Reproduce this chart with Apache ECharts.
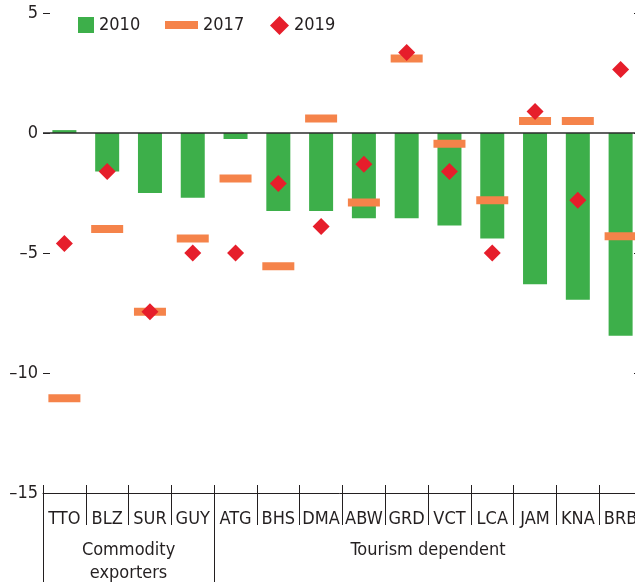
<!DOCTYPE html>
<html>
<head>
<meta charset="utf-8">
<script src="https://cdn.jsdelivr.net/npm/echarts@6/dist/echarts.min.js"></script>
<style>
  html, body { margin: 0; padding: 0; background: #fff; }
  #chart { width: 635px; height: 582px; }
</style>
</head>
<body>
<div id="chart"></div>
<script>
var categories = ['TTO', 'BLZ', 'SUR', 'GUY', 'ATG', 'BHS', 'DMA', 'ABW', 'GRD', 'VCT', 'LCA', 'JAM', 'KNA', 'BRB']
var values2010 = [0.12, -1.6, -2.5, -2.7, -0.25, -3.25, -3.25, -3.55, -3.55, -3.85, -4.4, -6.3, -6.95, -8.45]
var values2017 = [-11.05, -4.0, -7.45, -4.4, -1.9, -5.55, 0.6, -2.9, 3.1, -0.45, -2.8, 0.5, 0.5, -4.3]
var values2019 = [-4.6, -1.6, -7.45, -5.0, -5.0, -2.1, -3.9, -1.3, 3.35, -1.6, -5.0, 0.9, -2.8, 2.65]
var groupNames = ['Commodity\nexporters', 'Tourism dependent']
var groupEdges = [0, 4, 14]
var groupCenters = [2, 9]

var font = '"DejaVu Sans Condensed", "Liberation Sans Narrow", Roboto, sans-serif'
var ink = '#231f20'

var myChart = echarts.init(document.getElementById('chart'))

var option = {
  animation: false,
  textStyle: { fontFamily: font },
  grid: { left: 43, right: -7, top: 13, bottom: 89, containLabel: false, outerBoundsMode: 'none' },
  legend: [
    {
      data: [{ name: '2010', icon: 'rect' }], left: 73, top: 11, itemWidth: 16, itemHeight: 16, itemGap: 6,
      textStyle: { fontSize: 18, color: ink, fontFamily: font }
    },
    {
      data: [{ name: '2017', icon: 'rect' }], left: 160, top: 11, itemWidth: 33, itemHeight: 8,
      textStyle: { fontSize: 18, color: ink, fontFamily: font }
    },
    {
      data: [{ name: '2019', icon: 'diamond' }], left: 265, top: 11, itemWidth: 19, itemHeight: 19,
      textStyle: { fontSize: 18, color: ink, fontFamily: font }
    }
  ],
  xAxis: [
    {
      type: 'category',
      data: categories,
      position: 'bottom',
      axisLine: { show: true, onZero: false, lineStyle: { color: ink, width: 1 } },
      axisTick: { show: true, alignWithLabel: false, length: 32, lineStyle: { color: ink, width: 1 } },
      axisLabel: { color: ink, fontSize: 18, margin: 17, interval: 0, fontFamily: font },
      splitLine: { show: false }
    },
    {
      // short part of the separators above the axis line
      type: 'category',
      data: categories,
      position: 'bottom',
      axisLine: { show: false, onZero: false },
      axisTick: { show: true, inside: true, length: 8, lineStyle: { color: ink, width: 1 } },
      axisLabel: { show: false },
      splitLine: { show: false }
    },
    {
      // group separators and group names
      type: 'value',
      min: 0,
      max: 14,
      position: 'bottom',
      axisLine: { show: false, onZero: false },
      axisTick: { show: true, length: 90, customValues: groupEdges, lineStyle: { color: ink, width: 1 } },
      axisLabel: {
        show: true,
        customValues: groupCenters,
        margin: 46,
        color: ink,
        fontSize: 18,
        lineHeight: 23,
        fontFamily: font,
        formatter: function(v) {
          return groupNames[groupCenters.indexOf(v)] || ''
        }
      },
      splitLine: { show: false }
    }
  ],
  yAxis: [
    {
      type: 'value',
      min: -15,
      max: 5,
      interval: 5,
      axisLine: { show: false },
      axisTick: { show: true, inside: true, length: 7, lineStyle: { color: ink } },
      axisLabel: {
        color: ink, fontSize: 18, margin: 5, fontFamily: font,
        formatter: function(v) { return String(v).replace('-', '\u2013') }
      },
      splitLine: { show: false }
    },
    {
      type: 'value',
      position: 'right',
      min: -15,
      max: 5,
      interval: 5,
      axisLine: { show: false },
      axisTick: { show: true, inside: true, length: 8, lineStyle: { color: ink } },
      axisLabel: { show: false },
      splitLine: { show: false }
    }
  ],
  series: [
    {
      name: '2010',
      type: 'bar',
      data: values2010,
      barWidth: 24,
      itemStyle: { color: '#3daf4a' },
      z: 2,
      markLine: {
        silent: true,
        symbol: 'none',
        label: { show: false },
        lineStyle: { color: '#2b2b2b', width: 1.5, type: 'solid' },
        data: [{ yAxis: 0 }]
      }
    },
    {
      name: '2017',
      type: 'scatter',
      data: values2017,
      symbol: 'rect',
      symbolSize: [32, 8],
      itemStyle: { color: '#f5834a', opacity: 1 },
      z: 3
    },
    {
      name: '2019',
      type: 'scatter',
      data: values2019,
      symbol: 'diamond',
      symbolSize: 17,
      itemStyle: { color: '#e61e2b', opacity: 1 },
      z: 4
    }
  ]
}

myChart.setOption(option)
window.onresize = function() {
  myChart.resize()
}
</script>
</body>
</html>
